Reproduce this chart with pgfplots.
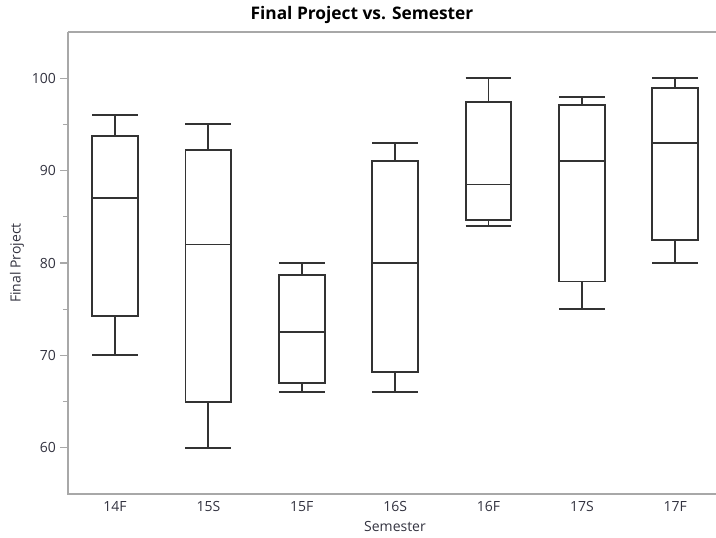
\documentclass[border=0pt]{standalone}
\usepackage{pgfplots}
\pgfplotsset{compat=1.18}
\usepgfplotslibrary{statistics}
\usepackage{fontspec}
\setmainfont{Open Sans}
\definecolor{axgray}{HTML}{A8A8A8}
\definecolor{txt}{HTML}{333340}
\definecolor{boxc}{HTML}{333333}
\begin{document}
\begin{tikzpicture}
\useasboundingbox (-51pt,-32.25pt) rectangle (486pt,370.5pt);
\begin{axis}[
  at={(0pt,0pt)}, anchor=south west,
  scale only axis, width=490.5pt, height=346.5pt,
  xmin=-0.503, xmax=6.5, ymin=55, ymax=105,
  axis line style={draw=none},
  clip=false,
  xtick={0,...,6},
  xticklabels={14F,15S,15F,16S,16F,17S,17F},
  x tick style={draw=none},
  ytick={60,70,...,100},
  minor ytick={65,75,85,95},
  ytick pos=left,
  y tick style={draw=axgray, line width=0.8pt},
  tick align=outside,
  major tick length=6pt, minor tick length=3.75pt,
  /pgf/number format/assume math mode=true,
  tick label style={font=\fontsize{10.5}{12}\selectfont, text=txt},
  xticklabel style={yshift=4pt},
  yticklabel style={xshift=0.5pt},
  xlabel={Semester}, ylabel={Final Project},
  every axis x label/.style={at={(axis description cs:0.5,0)}, anchor=center, yshift=-24pt, font=\fontsize{10.5}{12}\selectfont, text=txt},
  every axis y label/.style={at={(axis description cs:0,0.5)}, xshift=-38.25pt, rotate=90, anchor=center, font=\fontsize{10.5}{12}\selectfont, text=txt},
  title={\textbf{Final Project vs. Semester}},
  title style={at={(axis description cs:0.4495,1)}, anchor=center, yshift=6.75pt, font=\fontsize{13}{15}\selectfont, text=black},
  boxplot/box extend=0.49,
  boxplot/whisker extend=0.49,
  boxplot/draw direction=y,
]
\addplot[boxplot prepared={lower whisker=70, lower quartile=74.3, median=87, upper quartile=93.7, upper whisker=96, draw position=0}, draw=boxc, line width=1.4pt, mark=none] table[row sep=\\, y index=0] {y\\ 87\\};
\addplot[boxplot prepared={lower whisker=60, lower quartile=65, median=82, upper quartile=92.2, upper whisker=95, draw position=1}, draw=boxc, line width=1.4pt, mark=none] table[row sep=\\, y index=0] {y\\ 82\\};
\addplot[boxplot prepared={lower whisker=66, lower quartile=67, median=72.5, upper quartile=78.7, upper whisker=80, draw position=2}, draw=boxc, line width=1.4pt, mark=none] table[row sep=\\, y index=0] {y\\ 72.5\\};
\addplot[boxplot prepared={lower whisker=66, lower quartile=68.2, median=80, upper quartile=91, upper whisker=93, draw position=3}, draw=boxc, line width=1.4pt, mark=none] table[row sep=\\, y index=0] {y\\ 80\\};
\addplot[boxplot prepared={lower whisker=84, lower quartile=84.7, median=88.5, upper quartile=97.4, upper whisker=100, draw position=4}, draw=boxc, line width=1.4pt, mark=none] table[row sep=\\, y index=0] {y\\ 88.5\\};
\addplot[boxplot prepared={lower whisker=75, lower quartile=78, median=91, upper quartile=97.1, upper whisker=98, draw position=5}, draw=boxc, line width=1.4pt, mark=none] table[row sep=\\, y index=0] {y\\ 91\\};
\addplot[boxplot prepared={lower whisker=80, lower quartile=82.5, median=93, upper quartile=98.9, upper whisker=100, draw position=6}, draw=boxc, line width=1.4pt, mark=none] table[row sep=\\, y index=0] {y\\ 93\\};
\draw[axgray, line width=0.9pt] (rel axis cs:0,1) -- (rel axis cs:0,0) -- (rel axis cs:1,0);
\draw[axgray, line width=0.9pt] (rel axis cs:0,1) -- (rel axis cs:1,1);
\end{axis}
\end{tikzpicture}
\end{document}
